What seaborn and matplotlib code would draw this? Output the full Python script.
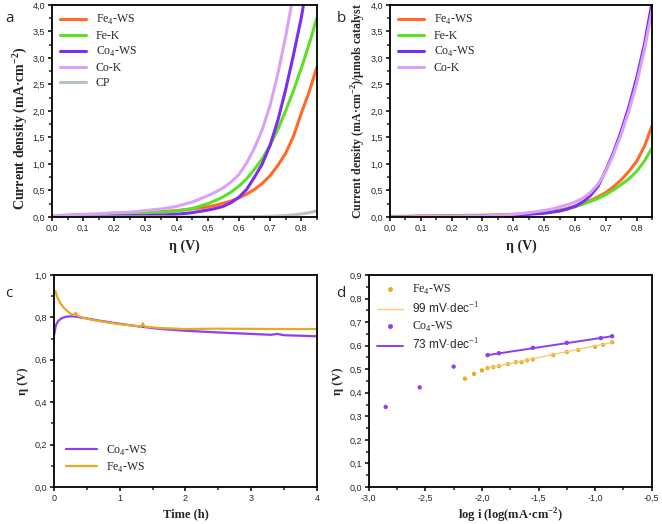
import numpy as np
import pandas as pd
import matplotlib
matplotlib.use("Agg")
import matplotlib.pyplot as plt
from matplotlib.lines import Line2D
from matplotlib.ticker import MultipleLocator, AutoMinorLocator, FuncFormatter
import seaborn as sns

sns.set_style("ticks")
plt.rcParams['font.family'] = ['Liberation Sans', 'DejaVu Sans']
plt.rcParams['mathtext.fontset'] = 'custom'
plt.rcParams['mathtext.rm'] = 'Liberation Serif'
plt.rcParams['mathtext.bf'] = 'Liberation Serif:bold'
plt.rcParams['mathtext.sf'] = 'Liberation Sans'

# ---- panel a: LSV curves ----
eta = [0.0, 0.05, 0.1, 0.15, 0.2, 0.25, 0.3, 0.35, 0.4, 0.45, 0.5, 0.525, 0.55, 0.575,
       0.6, 0.625, 0.65, 0.675, 0.7, 0.725, 0.75, 0.775, 0.8, 0.825, 0.85]
a_fe4ws = [0.01, 0.02, 0.03, 0.04, 0.05, 0.06, 0.08, 0.10, 0.12, 0.15, 0.19, 0.22, 0.26, 0.30,
           0.36, 0.43, 0.52, 0.63, 0.78, 0.97, 1.20, 1.52, 1.95, 2.35, 2.82]
a_fek = [0.01, 0.02, 0.03, 0.04, 0.05, 0.06, 0.07, 0.09, 0.11, 0.16, 0.25, 0.31, 0.38, 0.47,
         0.58, 0.72, 0.90, 1.10, 1.35, 1.65, 2.00, 2.38, 2.80, 3.25, 3.75]
a_co4ws = [0.0, 0.005, 0.01, 0.012, 0.015, 0.02, 0.025, 0.035, 0.05, 0.08, 0.13, 0.16, 0.20, 0.27,
           0.37, 0.52, 0.75, 1.00, 1.35, 1.82, 2.40, 3.05, 3.75, 4.6, 5.5]
a_cok = [0.02, 0.04, 0.05, 0.06, 0.08, 0.09, 0.12, 0.15, 0.20, 0.28, 0.40, 0.47, 0.55, 0.66,
         0.80, 1.02, 1.30, 1.65, 2.10, 2.70, 3.40, 4.2, 5.0, 5.8, 6.5]
a_cp = [0.0, 0.0, 0.0, 0.0, 0.0, 0.0, 0.0, 0.0, 0.0, 0.0, 0.0, 0.0, 0.001, 0.002,
        0.003, 0.004, 0.006, 0.008, 0.012, 0.018, 0.026, 0.038, 0.055, 0.08, 0.115]

# ---- panel b: normalised by catalyst amount ----
b_fe4ws = [0.01, 0.01, 0.02, 0.02, 0.02, 0.03, 0.03, 0.04, 0.05, 0.07, 0.09, 0.11, 0.13, 0.16,
           0.20, 0.25, 0.31, 0.38, 0.46, 0.57, 0.70, 0.86, 1.05, 1.33, 1.72]
b_fek = [0.0, 0.01, 0.01, 0.01, 0.02, 0.02, 0.03, 0.03, 0.04, 0.06, 0.08, 0.10, 0.12, 0.15,
         0.19, 0.24, 0.29, 0.35, 0.42, 0.51, 0.61, 0.72, 0.86, 1.05, 1.30]
b_co4ws = [0.0, 0.0, 0.0, 0.01, 0.01, 0.01, 0.02, 0.02, 0.03, 0.05, 0.07, 0.09, 0.11, 0.15,
           0.20, 0.28, 0.40, 0.58, 0.88, 1.22, 1.62, 2.08, 2.62, 3.25, 4.05]
b_cok = [0.0, 0.0, 0.01, 0.01, 0.01, 0.02, 0.02, 0.03, 0.05, 0.08, 0.12, 0.15, 0.19, 0.23,
         0.28, 0.35, 0.46, 0.62, 0.86, 1.18, 1.56, 2.00, 2.52, 3.15, 3.90]

# ---- panel c: chronopotentiometry ----
t_co = [0.0, 0.03, 0.07, 0.12, 0.18, 0.25, 0.32, 0.4, 0.5, 0.7, 1.0, 1.3, 1.6, 2.0, 2.5, 3.0,
        3.3, 3.4, 3.5, 3.8, 4.0]
eta_co = [0.715, 0.765, 0.785, 0.797, 0.803, 0.805, 0.804, 0.800, 0.795, 0.784, 0.770, 0.757,
          0.746, 0.737, 0.729, 0.722, 0.718, 0.722, 0.716, 0.713, 0.711]
t_fe = [0.0, 0.02, 0.05, 0.1, 0.15, 0.2, 0.25, 0.3, 0.33, 0.36, 0.45, 0.6, 0.8, 1.0, 1.2, 1.33,
        1.35, 1.38, 1.6, 2.0, 2.5, 3.0, 3.5, 4.0]
eta_fe = [0.910, 0.925, 0.895, 0.865, 0.845, 0.830, 0.818, 0.810, 0.822, 0.807, 0.798, 0.787,
          0.777, 0.768, 0.761, 0.757, 0.772, 0.757, 0.750, 0.745, 0.747, 0.746, 0.745, 0.745]

# ---- panel d: Tafel ----
fe_logi = [-2.15, -2.07, -2.0, -1.95, -1.9, -1.85, -1.77, -1.7, -1.65, -1.6, -1.55, -1.37,
           -1.25, -1.15, -1.0, -0.93, -0.85]
fe_eta = [0.460, 0.480, 0.495, 0.505, 0.509, 0.513, 0.522, 0.530, 0.530, 0.538, 0.542, 0.560,
          0.573, 0.582, 0.595, 0.604, 0.614]
co_logi = [-2.85, -2.55, -2.25, -1.95, -1.85, -1.55, -1.25, -0.95, -0.85]
co_eta = [0.340, 0.423, 0.511, 0.560, 0.568, 0.591, 0.612, 0.632, 0.640]
fe_fit_x = [-1.95, -0.85]
fe_fit_y = [0.505, 0.614]
co_fit_x = [-1.95, -0.85]
co_fit_y = [0.560, 0.640]

C_FE4 = '#FF6A26'
C_FEK = '#5CE024'
C_CO4 = '#7B2EF2'
C_COK = '#D9A2F5'
C_CP = '#B9C2C2'
C_FE_C = '#E9A922'
C_CO_C = '#8A40F0'
C_FE_FIT = '#F3CE7A'

fe4 = 'Fe$_4$-WS'
co4 = 'Co$_4$-WS'

comma = FuncFormatter(lambda v, p: f"{v:.1f}".replace('.', ','))
intfmt = FuncFormatter(lambda v, p: f"{v:.0f}")

big_bold = dict(family='Liberation Serif', fontweight='bold', fontsize=10)
serif_bold = dict(family='Liberation Serif', fontweight='bold', fontsize=9)
leg_font = dict(family='Liberation Serif', size=8.5)


def style(ax, xmaj, ymaj, xfmt=comma, yfmt=comma):
    for s in ax.spines.values():
        s.set_linewidth(1.3)
        s.set_color('black')
    ax.xaxis.set_major_locator(MultipleLocator(xmaj))
    ax.yaxis.set_major_locator(MultipleLocator(ymaj))
    ax.xaxis.set_minor_locator(AutoMinorLocator(2))
    ax.yaxis.set_minor_locator(AutoMinorLocator(2))
    ax.xaxis.set_major_formatter(xfmt)
    ax.yaxis.set_major_formatter(yfmt)
    ax.tick_params(which='major', direction='out', length=3, width=1.3, labelsize=6.5, pad=2)
    ax.tick_params(which='minor', direction='out', length=2, width=1.1)


fig = plt.figure(figsize=(6.62, 5.24), dpi=100)
ax_a = fig.add_axes([0.0785, 0.586, 0.400, 0.4046])
ax_b = fig.add_axes([0.589, 0.586, 0.396, 0.4046])
ax_c = fig.add_axes([0.0816, 0.0706, 0.397, 0.4046])
ax_d = fig.add_axes([0.557, 0.0706, 0.4275, 0.4046])

# a
for ys, c, lab in [(a_fe4ws, C_FE4, fe4), (a_fek, C_FEK, 'Fe-K'), (a_co4ws, C_CO4, co4),
                   (a_cok, C_COK, 'Co-K'), (a_cp, C_CP, 'CP')]:
    sns.lineplot(x=eta, y=ys, ax=ax_a, color=c, lw=2.2, label=lab)
ax_a.set_xlim(0, 0.85)
ax_a.set_ylim(0, 4.0)
style(ax_a, 0.1, 0.5)
ax_a.set_xlabel('η (V)', labelpad=5, **big_bold)
ax_a.set_ylabel(r'Current density (mA·cm$^{\mathbf{-2}}$)', **big_bold)
ax_a.yaxis.set_label_coords(-0.085, 0.42)
ax_a.legend(loc='upper left', frameon=False, prop=leg_font, handlelength=2.2,
            labelspacing=0.25, borderaxespad=0.3)

# b
for ys, c, lab in [(b_fe4ws, C_FE4, fe4), (b_fek, C_FEK, 'Fe-K'), (b_co4ws, C_CO4, co4),
                   (b_cok, C_COK, 'Co-K')]:
    sns.lineplot(x=eta, y=ys, ax=ax_b, color=c, lw=2.2, label=lab)
ax_b.set_xlim(0, 0.85)
ax_b.set_ylim(0, 4.0)
style(ax_b, 0.1, 0.5)
ax_b.set_xlabel('η (V)', labelpad=5, **big_bold)
ax_b.set_ylabel(r'Current density (mA·cm$^{\mathbf{-2}}$)/µmols catalyst', labelpad=2,
                family='Liberation Serif', fontweight='bold', fontsize=8.6)
ax_b.legend(loc='upper left', frameon=False, prop=leg_font, handlelength=2.2,
            labelspacing=0.25, borderaxespad=0.3)

# c
sns.lineplot(x=t_co, y=eta_co, ax=ax_c, color=C_CO_C, lw=1.6, label=co4)
sns.lineplot(x=t_fe, y=eta_fe, ax=ax_c, color=C_FE_C, lw=1.6, label=fe4)
ax_c.set_xlim(0, 4)
ax_c.set_ylim(0, 1.0)
style(ax_c, 1, 0.2, xfmt=intfmt)
ax_c.set_xlabel('Time (h)', **serif_bold)
ax_c.set_ylabel('η (V)', **serif_bold)
ax_c.legend(loc='lower left', frameon=False, prop=leg_font, handlelength=2.6,
            labelspacing=0.25, borderaxespad=0.2, bbox_to_anchor=(0.02, 0.025))

# d
sns.scatterplot(x=fe_logi, y=fe_eta, ax=ax_d, color=C_FE_C, s=10, edgecolor='none')
sns.lineplot(x=fe_fit_x, y=fe_fit_y, ax=ax_d, color=C_FE_FIT, lw=1.0)
sns.scatterplot(x=co_logi, y=co_eta, ax=ax_d, color=C_CO_C, s=10, edgecolor='none')
sns.lineplot(x=co_fit_x, y=co_fit_y, ax=ax_d, color=C_CO_C, lw=1.4)
ax_d.set_xlim(-3.0, -0.5)
ax_d.set_ylim(0, 0.9)
style(ax_d, 0.5, 0.1)
ax_d.set_xlabel(r'log i (log(mA·cm$^{\mathbf{-2}}$)', **serif_bold)
ax_d.xaxis.set_label_coords(0.5, -0.095)
ax_d.set_ylabel('η (V)', **serif_bold)
handles = [Line2D([], [], ls='none', marker='o', ms=2.5, color=C_FE_C),
           Line2D([], [], color=C_FE_FIT, lw=1.0),
           Line2D([], [], ls='none', marker='o', ms=2.5, color=C_CO_C),
           Line2D([], [], color=C_CO_C, lw=1.4)]
labels = [fe4, '99 mV·dec$^{-1}$', co4, '73 mV·dec$^{-1}$']
leg = ax_d.legend(handles, labels, loc='upper left', frameon=False, prop=leg_font,
                  handlelength=2.2, labelspacing=0.3, borderaxespad=0.3)
for txt in leg.get_texts()[1::2]:
    txt.set_family('Liberation Sans')

for lab, x, y in [('a', 0.008, 0.965), ('b', 0.508, 0.965), ('c', 0.008, 0.44), ('d', 0.508, 0.44)]:
    fig.text(x, y, lab, family='Open Sans', fontsize=11, va='center', ha='left')

fig.savefig('out.png', dpi=100)
